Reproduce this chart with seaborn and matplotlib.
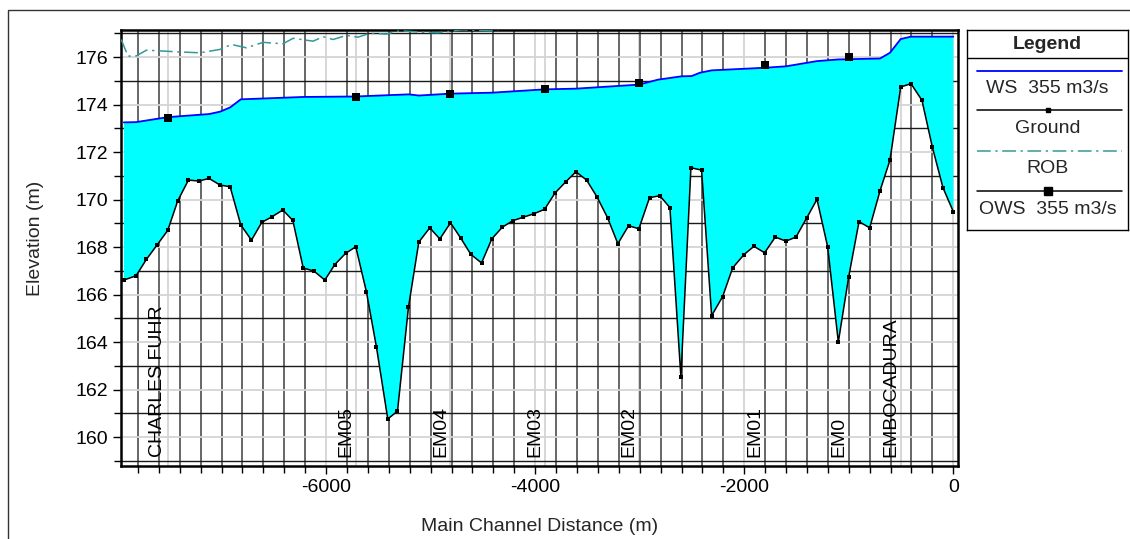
import numpy as np
import pandas as pd
import matplotlib
matplotlib.use("Agg")
import matplotlib.pyplot as plt
from matplotlib.lines import Line2D
from matplotlib.patches import Rectangle
from matplotlib.ticker import MultipleLocator
import matplotlib.transforms as mtransforms
import seaborn as sns

# ---- Profile data (main channel distance in m, elevation in m) ----
ground_dist = [-7935, -7818, -7719, -7620, -7515, -7419, -7317, -7218, -7120, -7014,
               -6918, -6816, -6714, -6615, -6516, -6414, -6318, -6219, -6117, -6012,
               -5917, -5812, -5716, -5614, -5518, -5410, -5317, -5212, -5113, -5008,
               -4912, -4810, -4714, -4615, -4513, -4414, -4313, -4214, -4112, -4013,
               -3910, -3811, -3709, -3610, -3508, -3407, -3307, -3209, -3106, -3008,
               -2906, -2807, -2711, -2606, -2510, -2408, -2312, -2207, -2111, -2003,
               -1907, -1805, -1703, -1601, -1505, -1403, -1304, -1202, -1100, -1001,
               -902, -800, -701, -606, -503, -405, -300, -201, -99, 0]
ground_elev = [166.61, 166.79, 167.48, 168.07, 168.70, 169.95, 170.82, 170.78, 170.89, 170.61,
               170.54, 168.93, 168.29, 169.04, 169.28, 169.56, 169.12, 167.12, 166.99, 166.61,
               167.26, 167.74, 168.01, 166.11, 163.78, 160.76, 161.09, 165.47, 168.21, 168.81,
               168.34, 169.02, 168.39, 167.69, 167.33, 168.35, 168.84, 169.11, 169.26, 169.40,
               169.59, 170.27, 170.74, 171.17, 170.82, 170.10, 169.23, 168.14, 168.90, 168.77,
               170.08, 170.16, 169.66, 162.53, 171.34, 171.24, 165.11, 165.91, 167.12, 167.68,
               168.03, 167.76, 168.42, 168.25, 168.42, 169.22, 170.01, 168.01, 164.00, 166.74,
               169.07, 168.81, 170.37, 171.66, 174.74, 174.88, 174.18, 172.22, 170.50, 169.49]

ws_dist = [-7935, -7818, -7515, -7120, -7014, -6918, -6816, -6516, -6219, -5716,
           -5208, -5113, -4810, -4414, -3910, -3610, -3008, -2823, -2599, -2503,
           -2424, -2312, -1805, -1601, -1304, -1100, -701, -606, -503, -405, 0]
ws_elev = [173.25, 173.26, 173.47, 173.60, 173.70, 173.88, 174.22, 174.27, 174.32, 174.34,
           174.43, 174.38, 174.46, 174.50, 174.64, 174.67, 174.84, 175.05, 175.19, 175.20,
           175.34, 175.44, 175.55, 175.61, 175.83, 175.90, 175.94, 176.18, 176.76, 176.86, 176.86]

rob_dist = [-7960, -7895, -7815, -7719, -7420, -7208, -7017, -6905, -6762, -6603,
            -6412, -6316, -6124, -6029, -5933, -5806, -5694, -5582, -5423, -5295,
            -5100, -4930, -4700, -4420, -4200, -3900]
rob_elev = [176.74, 176.04, 176.05, 176.29, 176.22, 176.18, 176.32, 176.53, 176.39, 176.62,
            176.56, 176.79, 176.67, 176.86, 176.74, 176.91, 176.84, 177.00, 176.97, 177.11,
            177.05, 177.02, 177.15, 177.10, 177.30, 177.50]

ows_dist = [-7515, -5716, -4810, -3910, -3008, -1805, -1001]
ows_elev = [173.44, 174.33, 174.46, 174.67, 174.92, 175.65, 176.01]

xs_names = ["CHARLES FUHR", "EM05", "EM04", "EM03", "EM02", "EM01", "EM0", "EMBOCADURA"]
xs_dist = [-7515, -5716, -4810, -3910, -3008, -1805, -1001, -503]

legend_labels = ["WS  355 m3/s", "Ground", "ROB", "OWS  355 m3/s"]

# ---- Styling ----
sns.set_theme(style="white")
plt.rcParams["font.family"] = ["Liberation Sans", "DejaVu Sans"]
FS = 14

WS_COLOR = "#0000ff"
FILL_COLOR = "#00ffff"
ROB_COLOR = "#339999"
ROB_DASH = (0, (9, 3, 1.5, 3))

fig = plt.figure(figsize=(11.30, 5.39), dpi=100)
W, H = 1130, 539

ax = fig.add_axes([121 / W, 1 - 466 / H, (957.7 - 121) / W, (466 - 30) / H])
ax.set_facecolor("white")
ax.set_xlim(-7962, 42)
ax.set_ylim(158.78, 177.14)

# grid: minor lines dark, major lines light (drawn under everything else)
ax.xaxis.set_major_locator(MultipleLocator(2000))
ax.xaxis.set_minor_locator(MultipleLocator(200))
ax.yaxis.set_major_locator(MultipleLocator(2))
ax.yaxis.set_minor_locator(MultipleLocator(1))
ax.set_axisbelow(True)
ax.grid(which="major", axis="both", color="#d4d4d4", lw=1.3, zorder=0)
ax.grid(which="minor", axis="x", color="#666666", lw=1.4, zorder=0)
ax.grid(which="minor", axis="y", color="#1a1a1a", lw=1.0, zorder=0)
for d in xs_dist:
    ax.axvline(d, color="#d4d4d4", lw=1.3, zorder=0.5)

# water between ground and water surface
poly_x = list(ws_dist) + list(ground_dist[::-1])
poly_y = list(ws_elev) + list(ground_elev[::-1])
ax.fill(poly_x, poly_y, color=FILL_COLOR, lw=0, zorder=1)

ground_df = pd.DataFrame({"dist": ground_dist, "elev": ground_elev})
ws_df = pd.DataFrame({"dist": ws_dist, "elev": ws_elev})
rob_df = pd.DataFrame({"dist": rob_dist, "elev": rob_elev})
ows_df = pd.DataFrame({"dist": ows_dist, "elev": ows_elev})

sns.lineplot(data=ws_df, x="dist", y="elev", ax=ax, color=WS_COLOR, lw=1.3,
             sort=False, estimator=None, zorder=3)
sns.lineplot(data=rob_df, x="dist", y="elev", ax=ax, color=ROB_COLOR, lw=1.1,
             sort=False, estimator=None, zorder=3, dashes=False)
ax.lines[-1].set_linestyle(ROB_DASH)
sns.lineplot(data=ground_df, x="dist", y="elev", ax=ax, color="black", lw=1.1,
             marker="s", markersize=3.2, markeredgewidth=0, sort=False,
             estimator=None, zorder=4)
sns.scatterplot(data=ows_df, x="dist", y="elev", ax=ax, color="black", marker="s",
                s=30, linewidth=0, zorder=5)

# cross-section labels
trans = mtransforms.blended_transform_factory(ax.transData, ax.transAxes)
off = mtransforms.ScaledTranslation(-1.5 / 100, 0, fig.dpi_scale_trans)
for name, d in zip(xs_names, xs_dist):
    ax.text(d, 9 / 436, name, rotation=90, ha="right", va="bottom",
            fontsize=FS, color="black", transform=trans + off, zorder=6)

# axes frame and ticks
for s in ax.spines.values():
    s.set_visible(True)
    s.set_color("black")
    s.set_linewidth(1.8)
ax.tick_params(which="major", direction="out", length=6, width=1.0, colors="black",
               labelsize=FS, pad=3, left=True, bottom=True)
ax.tick_params(which="minor", direction="out", length=5, width=1.0, colors="black",
               left=True, bottom=True)
ax.set_xticks([-6000, -4000, -2000, 0])
ax.set_xticklabels(["-6000", "-4000", "-2000", "0"])
ax.set_yticks(np.arange(160, 177, 2))
ax.set_xlabel("Main Channel Distance (m)", fontsize=FS, labelpad=16)
ax.set_ylabel("Elevation (m)", fontsize=FS)
ax.yaxis.set_label_coords(-0.092, 0.523)

# legend panel
lax = fig.add_axes([967 / W, 1 - 229.5 / H, (1128 - 967) / W, (229.5 - 30) / H])
lax.set_xlim(0, 1)
lax.set_ylim(1, 0)
lax.set_xticks([])
lax.set_yticks([])
for s in lax.spines.values():
    s.set_color("black")
    s.set_linewidth(1.0)
lax.text(0.5, 0.075, "Legend", ha="center", va="center", fontsize=FS, fontweight="bold")
lax.axhline(0.139, color="black", lw=1.0)
line_y = [0.204, 0.401, 0.607, 0.807]
text_y = [0.292, 0.493, 0.693, 0.899]
handles = [
    dict(color=WS_COLOR, lw=1.3),
    dict(color="black", lw=1.1, marker="s", markersize=3.2, markevery=[1]),
    dict(color=ROB_COLOR, lw=1.1, linestyle=ROB_DASH),
    dict(color="black", lw=1.1, marker="s", markersize=5.5, markevery=[1]),
]
for ly, ty, lab, kw in zip(line_y, text_y, legend_labels, handles):
    lax.add_line(Line2D([0.062, 0.5, 0.963], [ly, ly, ly], **kw))
    lax.text(0.5, ty, lab, ha="center", va="center", fontsize=FS)

# outer frame around the figure
fig.patches.append(Rectangle((8 / W, -0.1), 1.2, 0.1 + 1 - 10 / H, transform=fig.transFigure,
                             fill=False, edgecolor="#333333", lw=1.0, clip_on=False))

fig.savefig("out.png", dpi=100, facecolor="white")
